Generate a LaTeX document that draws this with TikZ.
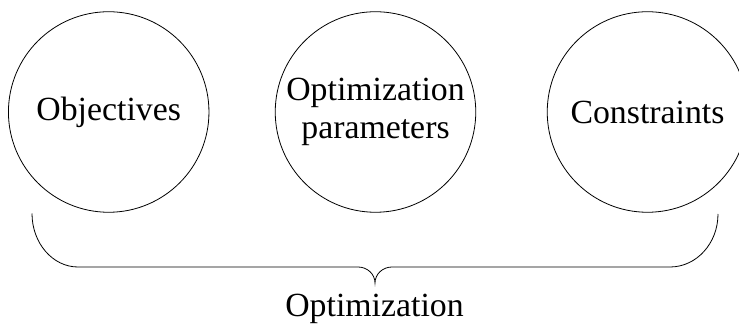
\documentclass[tikz,border=0pt]{standalone}
\usepackage{fontspec}
\setmainfont{Liberation Serif}
\begin{document}
\begin{tikzpicture}[x=0.75pt,y=-0.75pt,
  topic/.style={circle,draw=black,line width=0.6pt,minimum size=150.4pt,inner sep=0pt,align=center,
    font=\fontsize{25.35}{28.05}\selectfont},
  bracestroke/.style={draw=black,line width=0.6pt},
  caption/.style={font=\fontsize{25.35}{28.05}\selectfont,inner sep=0pt}]
% page area; the right circle runs past the edge and is cut off
\clip (0,0) rectangle (739,327);

% the three parts of an optimization
\node[topic] (obj) at (108.7,112) {Objectives};
\node[topic] (par) at (375.5,112) {Optimization\\parameters};
\node[topic] (con) at (647.5,112) {Constraints};

% brace under the circles
\coordinate (bl) at (32,213.5);
\coordinate (br) at (718,214);
\coordinate (tip) at (375,283);
\draw[bracestroke] (bl) .. controls (32,243) and (52.6,267) .. (78,267)
  -- (358,267) .. controls (367.4,267) and (375,274.2) .. (tip)
  .. controls (375,274.2) and (382.6,267) .. (392,267)
  -- (670,267) .. controls (696.5,267) and (718,243.3) .. (br);

% label of the brace
\node[caption,anchor=base] (opt) at (374.5,316.7) {Optimization};
\end{tikzpicture}
\end{document}
